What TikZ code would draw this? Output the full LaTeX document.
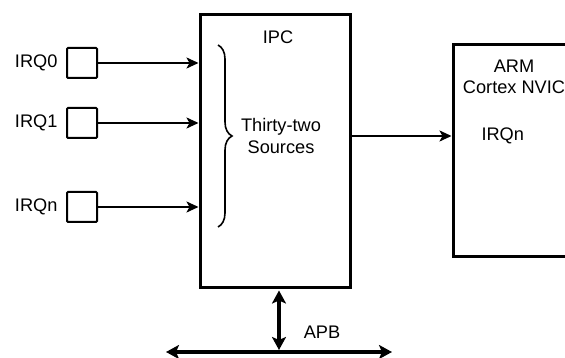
\documentclass[tikz,border=0pt]{standalone}
\usepackage{fontspec}
\setmainfont{Liberation Sans}
\usetikzlibrary{arrows.meta,decorations.pathreplacing}

\begin{document}
\begin{tikzpicture}[x=1pt, y=-1pt,
    font=\fontsize{18.2}{21.5}\selectfont,
    block/.style={draw, line width=3pt, minimum width=#1},
    irqbox/.style={draw, line width=2pt, rounded corners=1pt, minimum width=30pt, minimum height=30pt},
    sig/.style={-{Stealth[length=12pt, width=11pt, inset=3pt]}, line width=2pt},
    bus/.style={{Stealth[length=13pt, width=14pt, inset=3pt]}-{Stealth[length=13pt, width=14pt, inset=3pt]}, line width=4pt}]
\useasboundingbox (0,0) rectangle (565,358);
\clip (0,0) rectangle (565,358);

% Blocks
\node[block=150pt, minimum height=272pt] (ipc) at (275,151) {};
\node[block=140pt, minimum height=212pt] (arm) at (523,151) {};

% Interrupt sources
\node[irqbox] (sq0) at (82,63) {};
\node[irqbox] (sq1) at (82,123) {};
\node[irqbox] (sqn) at (82,207) {};
\node[left=5pt] (irq0) at (sq0.west) {IRQ0};
\node[left=5pt] (irq1) at (sq1.west) {IRQ1};
\node[left=5pt] (irqn) at (sqn.west) {IRQn};

\draw[sig] (sq0.east) -- (ipc.west |- sq0);
\draw[sig] (sq1.east) -- (ipc.west |- sq1);
\draw[sig] (sqn.east) -- (ipc.west |- sqn);

% Texts inside the blocks
\node (ipclbl) at (278,37) {IPC};
\draw[line width=1.6pt, decorate, decoration={brace, amplitude=14pt}] (218,45) -- (218,227);
\node[align=center] (src) at (281,136) {Thirty-two\\Sources};
\node[align=center] (armlbl) at (514,77) {ARM\\Cortex NVIC};
\node[anchor=west] (armirq) at (478,136) {IRQn};

\draw[sig] (ipc.east |- armirq) -- (arm.west |- armirq);

% APB
\coordinate (busL) at (166,352);
\coordinate (busR) at (392,352);
\coordinate (tap) at (279,352);
\draw[bus] (busL) -- (busR);
\draw[bus, shorten <=2pt, shorten >=2pt] (ipc.south -| tap) -- (tap);
\node (apb) at (322,332) {APB};
\end{tikzpicture}
\end{document}
